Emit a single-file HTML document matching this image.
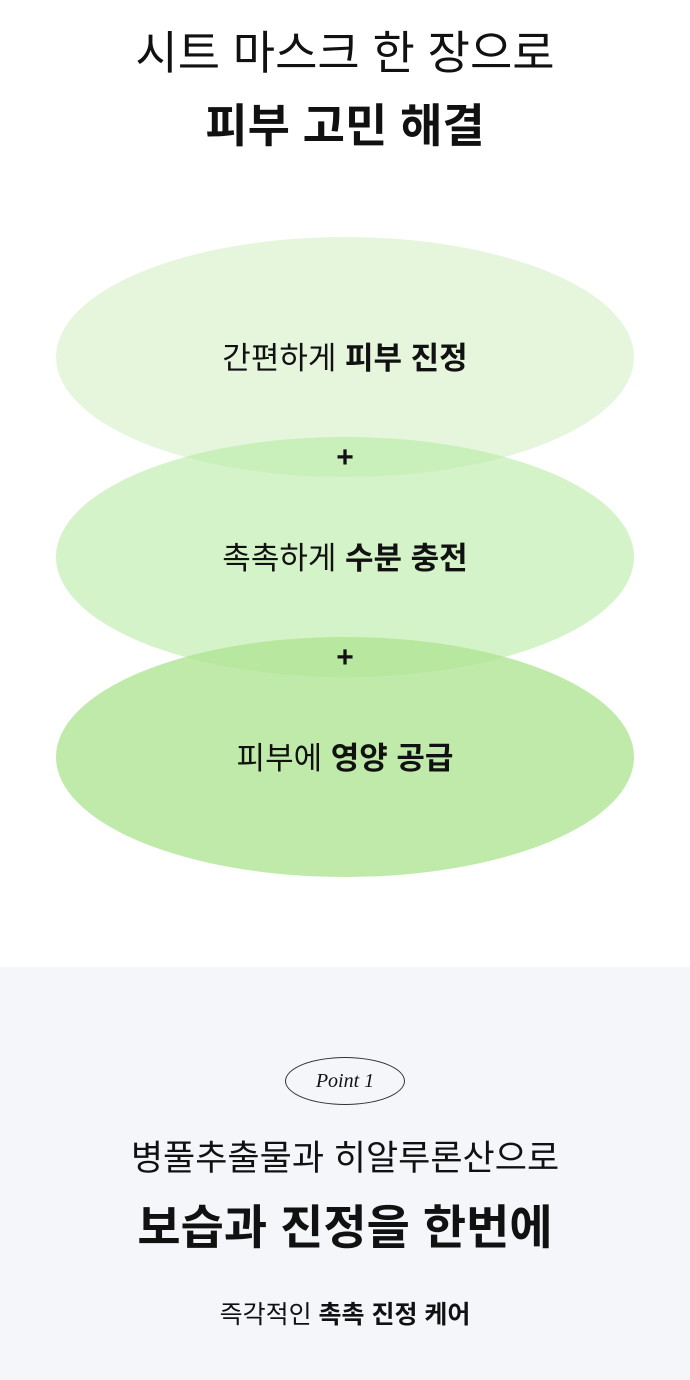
<!DOCTYPE html>
<html><head><meta charset="utf-8"><style>
html,body{margin:0;padding:0;width:690px;height:1380px;overflow:hidden;background:#fff;font-family:"Liberation Sans","Noto Sans CJK KR",sans-serif;color:#111}
.abs{position:absolute;left:0;width:690px;text-align:center}
</style></head><body>
<div class="abs" style="top:25px;font-size:46px;line-height:56px;">시트 마스크 한 장으로</div>
<div class="abs" style="top:96px;font-size:46px;line-height:60px;font-weight:bold;">피부 고민 해결</div>
<svg style="position:absolute;left:0;top:0" width="690" height="960">
<defs>
<clipPath id="c1"><ellipse cx="345" cy="357" rx="289" ry="120"/></clipPath>
<clipPath id="c2"><ellipse cx="345" cy="557" rx="289" ry="120"/></clipPath>
</defs>
<ellipse cx="345" cy="357" rx="289" ry="120" fill="#e6f6dd"/>
<ellipse cx="345" cy="557" rx="289" ry="120" fill="#d5f3c9"/>
<ellipse cx="345" cy="557" rx="289" ry="120" fill="#c9efbb" clip-path="url(#c1)"/>
<ellipse cx="345" cy="757" rx="289" ry="120" fill="#bfeaa9"/>
<ellipse cx="345" cy="757" rx="289" ry="120" fill="#b8e8a0" clip-path="url(#c2)"/>
</svg>
<div class="abs" style="top:338px;font-size:31px;line-height:42px;">간편하게 <b>피부 진정</b></div>
<div class="abs" style="top:438px;font-size:30px;line-height:40px;font-weight:bold;">+</div>
<div class="abs" style="top:538px;font-size:31px;line-height:42px;">촉촉하게 <b>수분 충전</b></div>
<div class="abs" style="top:638px;font-size:30px;line-height:40px;font-weight:bold;">+</div>
<div class="abs" style="top:738px;font-size:31px;line-height:42px;">피부에 <b>영양 공급</b></div>
<div style="position:absolute;left:0;top:967px;width:690px;height:413px;background:#f4f6fa"></div>
<div style="position:absolute;left:285px;top:1057px;width:120px;height:48px;border:1px solid #333;border-radius:50%;box-sizing:border-box;text-align:center;line-height:46px;font-family:'Liberation Serif',serif;font-style:italic;font-size:20px;">Point 1</div>
<div class="abs" style="top:1135px;font-size:35px;line-height:48px;">병풀추출물과 히알루론산으로</div>
<div class="abs" style="top:1198px;font-size:47px;line-height:60px;font-weight:bold;">보습과 진정을 한번에</div>
<div class="abs" style="top:1297px;font-size:25px;line-height:36px;">즉각적인 <b>촉촉 진정 케어</b></div>
</body></html>
